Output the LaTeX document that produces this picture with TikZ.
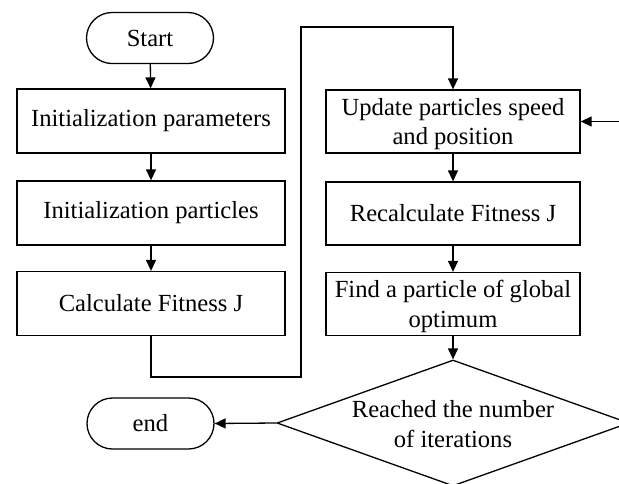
\documentclass[tikz,border=0pt]{standalone}
\usepackage{fontspec}
\setmainfont{Liberation Serif}
\usetikzlibrary{arrows.meta,shapes.geometric}
\begin{document}
\begin{tikzpicture}[x=1pt,y=-1pt,
  every node/.style={font=\fontsize{24.6}{29.5}\selectfont},
  proc/.style={draw, line width=1.3pt, inner sep=0pt, minimum width=268pt, minimum height=64pt, align=center},
  proc2/.style={proc, minimum width=254pt, minimum height=63pt},
  twoline/.style={text depth=0pt},
  term/.style={draw, line width=1.3pt, rounded corners=25.5pt, minimum width=127pt, minimum height=51pt, inner sep=0pt},
  arr/.style={-{Triangle[length=11pt,width=10pt]}, line width=1.3pt},
  ln/.style={line width=1.3pt}]
\useasboundingbox (0,0) rectangle (619,483);
\clip (0,0) rectangle (619,483);
% left column
\node[term] (s) at (150,38) {Start};
\node[proc] (p1) at (151,121) {Initialization parameters};
\node[proc] (p2) at (151,213) {Initialization particles};
\node[proc] (p3) at (151,303.5) {Calculate Fitness J};
% right column
\node[proc2, twoline] (u1) at (453,121.5) {Update particles speed\\and position};
\node[proc2] (u2) at (453,213.5) {Recalculate Fitness J};
\node[proc2, twoline] (u3) at (453,304) {Find a particle of global\\optimum};
\node[draw, shape=diamond, line width=1.3pt, inner sep=0pt, minimum width=352pt, minimum height=126pt] (d) at (453,423) {};
\node[align=center, twoline] (dt) at (453,424) {Reached the number\\of iterations};
\node[term] (e) at (150.5,423.5) {end};
% helper coordinates
\coordinate (k1) at (301,377);
\coordinate (k2) at (301,27);
\coordinate (r) at (625,121.5);
% connectors
\draw[arr] (s) -- (p1);
\draw[arr] (p1) -- (p2);
\draw[arr] (p2) -- (p3);
\draw[arr] (p3.south) |- (k1) -- (k2) -| (u1.north);
\draw[arr] (u1) -- (u2);
\draw[arr] (u2) -- (u3);
\draw[arr] (u3) -- (d.north);
\draw[arr] (d.west) -- (e.east);
\draw[arr] (r) -- (u1.east);
\end{tikzpicture}
\end{document}
